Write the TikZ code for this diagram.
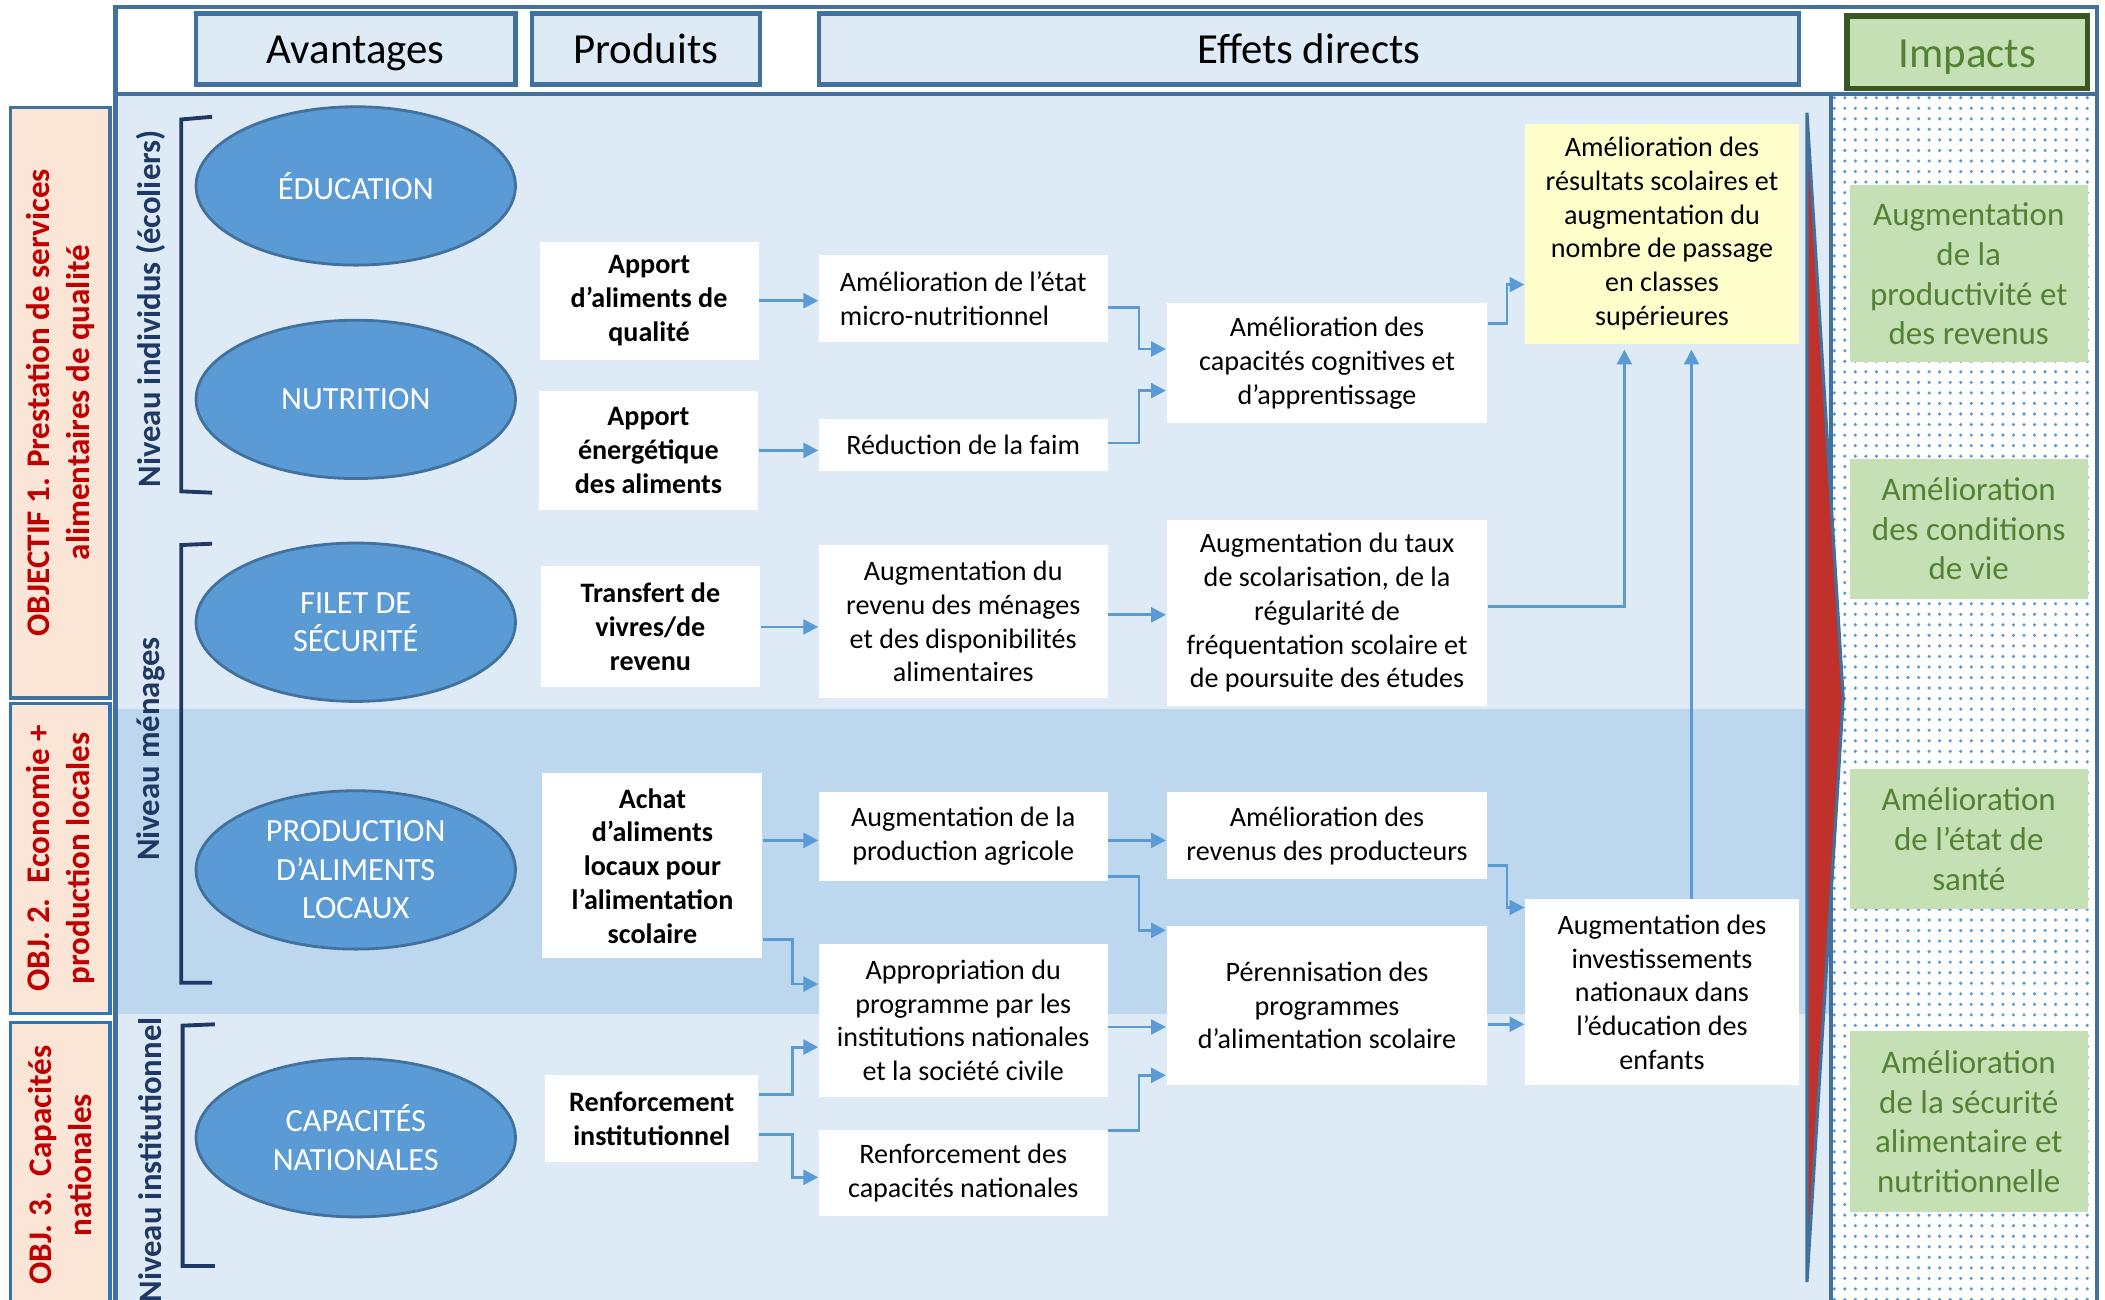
\documentclass[tikz,border=0pt]{standalone}
\usepackage{fontspec}
\setmainfont{Carlito}
\usetikzlibrary{shapes.geometric,arrows.meta,patterns}
\definecolor{bgblue}{RGB}{222,235,247}
\definecolor{bandblue}{RGB}{189,215,238}
\definecolor{frameblue}{RGB}{65,113,156}
\definecolor{ellblue}{RGB}{91,155,213}
\definecolor{objblue}{RGB}{46,117,182}
\definecolor{navy}{RGB}{31,56,100}
\definecolor{peach}{RGB}{251,229,214}
\definecolor{objred}{RGB}{192,0,0}
\definecolor{impfill}{RGB}{197,224,180}
\definecolor{impgreen}{RGB}{84,130,53}
\definecolor{darkgreen}{RGB}{56,87,35}
\definecolor{paleyellow}{RGB}{255,255,204}
\definecolor{wedgered}{RGB}{192,49,43}

\begin{document}
\begin{tikzpicture}[x=0.013425cm,y=-0.013425cm,>={Triangle[length=4.2pt,width=4.2pt]},
    arr/.style={->,draw=ellblue,line width=0.8pt},
    hdr/.style={draw=frameblue,line width=1.2pt,fill=bgblue,minimum height=0.712cm,inner sep=0pt,text height=10.6pt,text depth=2.2pt,font=\fontsize{12.2}{14.6}\selectfont},
    benef/.style={ellipse,draw=frameblue,line width=0.8pt,fill=ellblue,text=white,minimum width=3.195cm,minimum height=1.584cm,inner sep=0pt,align=center,font=\fontsize{9.2}{11}\selectfont},
    prod/.style={fill=white,inner sep=0pt,align=center,minimum width=2.19cm,font=\bfseries\fontsize{8}{9.6}\selectfont},
    eff/.style={fill=white,inner sep=0pt,align=center,minimum width=2.886cm,font=\fontsize{8}{9.6}\selectfont},
    effb/.style={eff,minimum width=3.209cm},
    effc/.style={eff,minimum width=2.739cm},
    impact/.style={fill=impfill,text=impgreen,inner sep=0pt,align=center,minimum width=2.376cm,font=\fontsize{9.4}{11.3}\selectfont},
    obj/.style={rotate=90,fill=peach,draw=objblue,line width=0.9pt,text=objred,minimum height=0.993cm,inner sep=0pt,align=center,font=\bfseries\fontsize{9.4}{11.4}\selectfont},
    niveau/.style={rotate=90,text=navy,inner sep=0pt,font=\bfseries\fontsize{9.3}{11}\selectfont},
    brk/.style={draw=navy,line width=1.1pt}]
    \useasboundingbox (0,0) rectangle (1568,968);
    \fill[white] (0,0) rectangle (1568,968);
    \fill[bgblue] (86,70) rectangle (1364,975);
    \fill[bandblue] (86,528) rectangle (1364,755);
    \fill[white] (1364,70) rectangle (1562,975);
    \fill[pattern=dots,pattern color=ellblue] (1364,70) rectangle (1562,975);
    \draw[frameblue,line width=1.2pt] (86,5) rectangle (1562,975) (86,70) -- (1562,70) (1364,70) -- (1364,975);
    \filldraw[fill=wedgered,draw=frameblue,line width=0.9pt] (1346,84) -- (1373,520) -- (1346,955) -- cycle;

    \node[hdr,minimum width=3.195cm] (hav) at (265,36.5) {Avantages};
    \node[hdr,minimum width=2.282cm] (hprod) at (481,36.5) {Produits};
    \node[hdr,minimum width=9.8cm] (heff) at (975,36.5) {Effets directs};
    \node[hdr,draw=darkgreen,line width=1.6pt,fill=impfill,text=impgreen,minimum width=2.403cm,minimum height=0.725cm] (himp) at (1465.5,39) {Impacts};

    \node[obj,draw=frameblue,minimum width=5.907cm] (obj1) at (45,300) {OBJECTIF 1. Prestation de services\\alimentaires de qualité};
    \node[obj,minimum width=3.101cm] (obj2) at (45,639.5) {OBJ. 2.\ \ Economie +\\production locales};
    \node[obj,minimum width=2.86cm] (obj3) at (45,868) {OBJ. 3.\ \ Capacités\\nationales};

    \node[niveau] (niv1) at (112,230) {Niveau individus (écoliers)};
    \node[niveau] (niv2) at (112,558) {Niveau ménages};
    \node[niveau] (niv3) at (112,864) {Niveau institutionnel};
    \draw[brk] (158,87) -- (135,89) -- (135,366) -- (158,367);
    \draw[brk] (158,405) -- (135,406) -- (135,732) -- (158,732);
    \draw[brk] (160,763) -- (136,764) -- (136,943) -- (160,943);

    \node[benef] (edu) at (265,138.5) {ÉDUCATION};
    \node[benef] (nut) at (265,297.5) {NUTRITION};
    \node[benef] (filet) at (265,463.5) {FILET DE\\SÉCURITÉ};
    \node[benef] (prodloc) at (265,648) {PRODUCTION\\D’ALIMENTS\\LOCAUX};
    \node[benef] (capnat) at (265,847.5) {CAPACITÉS\\NATIONALES};

    \node[prod,minimum height=1.18cm] (apq) at (483.5,224) {Apport\\d’aliments de\\qualité};
    \node[prod,minimum height=1.195cm] (ape) at (483,335.5) {Apport\\énergétique\\des aliments};
    \node[prod,minimum height=1.21cm] (transf) at (484.5,467) {Transfert de\\vivres/de\\revenu};
    \node[prod,minimum width=2.2cm,minimum height=1.85cm] (achat) at (486,645) {Achat\\d’aliments\\locaux pour\\l’alimentation\\scolaire};
    \node[prod,minimum width=2.13cm,minimum height=0.87cm] (renf) at (485.5,833.5) {Renforcement\\institutionnel};

    \node[eff,align=left,minimum height=0.873cm] (micro) at (717.5,222.5) {Amélioration de l’état\\micro-nutritionnel};
    \node[eff,minimum height=0.524cm] (faim) at (717.5,331.5) {Réduction de la faim};
    \node[eff,minimum height=1.53cm] (revmen) at (717.5,463) {Augmentation du\\revenu des ménages\\et des disponibilités\\alimentaires};
    \node[eff,minimum height=0.886cm] (agri) at (717.5,623) {Augmentation de la\\production agricole};
    \node[eff,minimum height=1.53cm] (approp) at (717.5,760) {Appropriation du\\programme par les\\institutions nationales\\et la société civile};
    \node[eff,minimum height=0.859cm] (rcap) at (717.5,874) {Renforcement des\\capacités nationales};

    \node[effb,minimum height=1.195cm] (cogn) at (988.5,270.5) {Amélioration des\\capacités cognitives et\\d’apprentissage};
    \node[effb,minimum height=1.866cm] (taux) at (988.5,456.5) {Augmentation du taux\\de scolarisation, de la\\régularité de\\fréquentation scolaire et\\de poursuite des études};
    \node[effb,minimum height=0.873cm] (revprod) at (988.5,622.5) {Amélioration des\\revenus des producteurs};
    \node[effb,minimum height=1.584cm] (peren) at (988.5,749) {Pérennisation des\\programmes\\d’alimentation scolaire};

    \node[effc,fill=paleyellow,minimum height=2.202cm] (resul) at (1238,174) {Amélioration des\\résultats scolaires et\\augmentation du\\nombre de passage\\en classes\\supérieures};
    \node[effc,minimum height=1.853cm] (invest) at (1238,739) {Augmentation des\\investissements\\nationaux dans\\l’éducation des\\enfants};

    \node[impact,minimum height=1.772cm] (imp1) at (1466.5,204) {Augmentation\\de la\\productivité et\\des revenus};
    \node[impact,minimum height=1.396cm] (imp2) at (1466.5,394) {Amélioration\\des conditions\\de vie};
    \node[impact,minimum height=1.396cm] (imp3) at (1466.5,625) {Amélioration\\de l’état de\\santé};
    \node[impact,minimum height=1.812cm] (imp4) at (1466.5,835.5) {Amélioration\\de la sécurité\\alimentaire et\\nutritionnelle};

    \draw[arr] (apq.east) -- (apq.east -| micro.west);
    \draw[arr] (ape.east) -- (ape.east -| faim.west);
    \draw[arr] (transf.east) -- (transf.east -| revmen.west);
    \draw[arr] (achat.east |- 0,626) -- (agri.west |- 0,626);
    \draw[arr] (achat.east |- 0,700) -- ++(22,0) |- (approp.west |- 0,733);
    \draw[arr] (renf.east |- 0,815) -- ++(25,0) |- (approp.west |- 0,780);
    \draw[arr] (renf.east |- 0,845) -- ++(25,0) |- (rcap.west |- 0,877);
    \draw[arr] (micro.east |- 0,229) -- ++(23,0) |- (cogn.west |- 0,260);
    \draw[arr] (faim.east |- 0,330) -- ++(23,0) |- (cogn.west |- 0,291);
    \draw[arr] (revmen.east |- 0,458) -- (taux.west |- 0,458);
    \draw[arr] (agri.east |- 0,626) -- (revprod.west |- 0,626);
    \draw[arr] (agri.east |- 0,653) -- ++(23,0) |- (peren.west |- 0,693);
    \draw[arr] (approp.east |- 0,765) -- (peren.west |- 0,765);
    \draw[arr] (rcap.east |- 0,842) -- ++(23,0) |- (peren.west |- 0,801);
    \draw[arr] (cogn.east |- 0,241) -- ++(14,0) |- (resul.west |- 0,212);
    \draw[arr,shorten >=1.5pt] (taux.east |- 0,452) -| (resul.south -| 1210,0);
    \draw[arr] (revprod.east |- 0,645) -- ++(14,0) |- (invest.west |- 0,676);
    \draw[arr] (peren.east |- 0,763) -- (invest.west |- 0,763);
    \draw[arr,shorten >=1.5pt] (invest.north -| 1260,0) -- (resul.south -| 1260,0);
\end{tikzpicture}
\end{document}
